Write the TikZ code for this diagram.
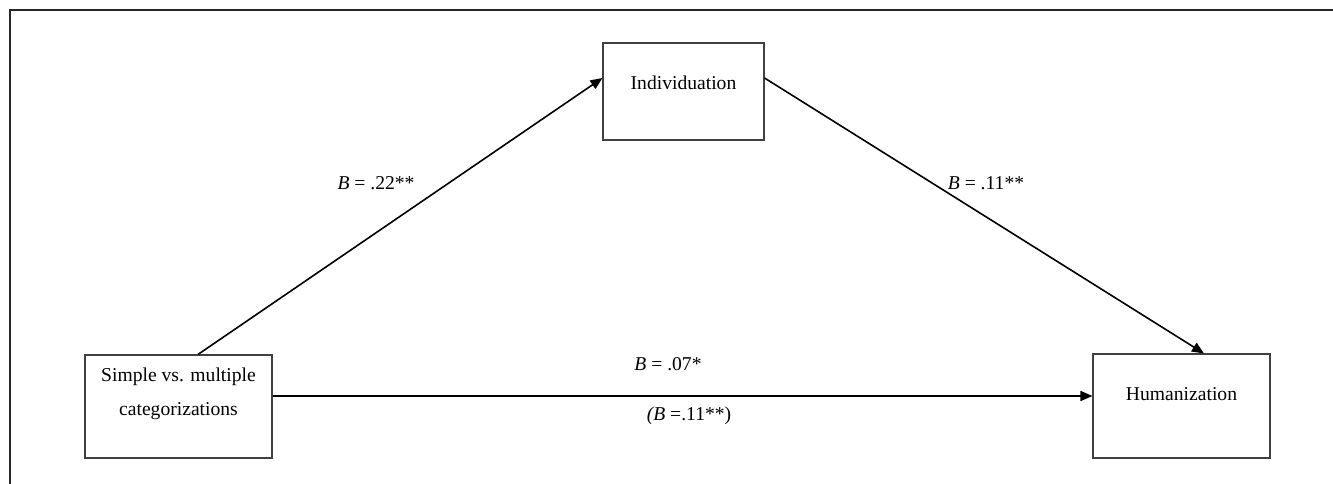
\documentclass[tikz,border=0pt]{standalone}
\usepackage{fontspec}
\setmainfont{Liberation Serif}
\usetikzlibrary{arrows.meta}

\begin{document}
\begin{tikzpicture}[x=1pt,y=-1pt,->,>={Triangle[length=12pt,width=10pt]},line width=1.6pt,
    every node/.style={font=\fontsize{19.6}{34}\selectfont},
    var/.style={draw=black!75,line width=1.1pt,inner sep=0pt,align=center,text height=14pt},
    coef/.style={anchor=base,inner sep=0pt}]
    \useasboundingbox (0,0) rectangle (1333,484);
    \draw[-,line width=1.8pt,black!85] (10,484) -- (10,10) -- (1333,10);

    \node[var,minimum width=187pt,minimum height=103pt,text height=48pt,text depth=31pt] (sim) at (178.5,406.5) {Simple vs. multiple\\categorizations};
    \node[var,minimum width=161pt,minimum height=97pt,text depth=18.4pt] (ind) at (683.5,91.5) {Individuation};
    \node[var,minimum width=177pt,minimum height=104pt,text depth=24.6pt] (hum) at (1181.5,406) {Humanization};

    \node[coef] (a) at (376,189) {\textit{B} = .22**};
    \node[coef] (b) at (986,189) {\textit{B} = .11**};
    \node[coef] (c) at (668,370.7) {\textit{B} = .07*};
    \node[coef] (c') at (689,420) {\textit{(B} =.11**)};

    \path ([xshift=19.5pt]sim.north) edge ([yshift=13.5pt]ind.west)
          ([yshift=13.5pt]ind.east) edge ([xshift=22.5pt]hum.north)
          ([yshift=10.5pt]sim.east) edge ([yshift=10pt]hum.west);
\end{tikzpicture}
\end{document}
